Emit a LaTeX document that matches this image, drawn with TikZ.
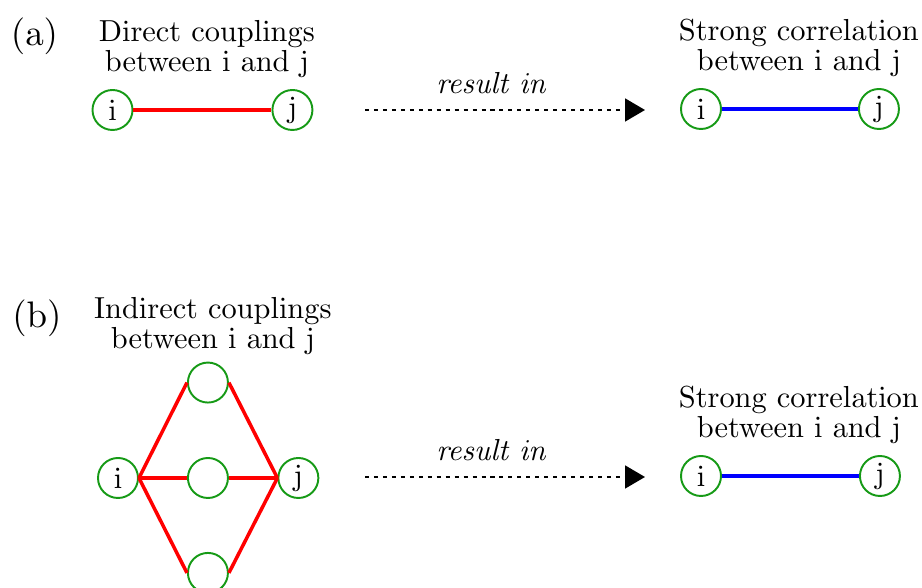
\documentclass[tikz,border=0pt]{standalone}
\usepackage{tikz}
\usetikzlibrary{arrows.meta,positioning}
\definecolor{SiteGreen}{HTML}{169A16}
\font\diagrm=cmr10 at 17.3pt
\font\diagit=cmti10 at 17.3pt
\font\panelrm=cmr10 at 21pt
\newcommand\diagfont{\diagrm\baselineskip 17pt\relax}

\begin{document}
\begin{tikzpicture}[
  every node/.style={font=\diagfont},
  site/.style={
    draw=SiteGreen,circle,line width=1.1pt,
    minimum size=0.8cm,inner sep=0pt
  },
  caption/.style={align=center},
  panel/.style={font=\panelrm},
  coupling/.style={draw=red,line width=2pt},
  correl/.style={draw=blue,line width=2pt},
  leadsto/.style={
    draw,line width=1pt,dash pattern=on 2.3pt off 2.8pt,
    -{Triangle[length=0.4cm,width=0.46cm]}
  }
]
  \useasboundingbox (0,0) rectangle (18.44,11.76);

  % (a) direct couplings
  \node[panel] (labA) at (0.69,11.04) {(a)};
  \node[caption] (capDir) at (4.14,10.78) {Direct couplings\\between i and j};
  \node[site] (dirI) at (2.25,9.56) {i};
  \node[site,right=2.76cm of dirI] (dirJ) {j};
  \draw[coupling] (dirI) -- (dirJ);

  \coordinate (arrAs) at (7.3,9.56);
  \coordinate (arrAe) at (12.9,9.56);
  \draw[leadsto] (arrAs) -- node[pos=0.45,above=0.2cm,font=\diagit] {result in} (arrAe);

  \node[caption] (capCorA) at (15.98,10.80) {Strong correlation\\between i and j};
  \node[site] (corAI) at (14.02,9.58) {i};
  \node[site,right=2.72cm of corAI] (corAJ) {j};
  \draw[correl] (corAI) -- (corAJ);

  % (b) indirect couplings
  \node[panel] (labB) at (0.74,5.40) {(b)};
  \node[caption] (capInd) at (4.26,5.25) {Indirect couplings\\between i and j};
  \node[site] (indI) at (2.36,2.20) {i};
  \node[site,right=0.96cm of indI] (indMid) {};
  \node[site,right=0.97cm of indMid] (indJ) {j};
  \node[site,above=1.07cm of indMid] (indUp) {};
  \node[site,below=1.06cm of indMid] (indLow) {};
  \draw[coupling] (indI.east) -- (indUp.west);
  \draw[coupling] (indI.east) -- (indMid.west);
  \draw[coupling] (indI.east) -- (indLow.west);
  \draw[coupling] (indUp.east) -- (indJ.west);
  \draw[coupling] (indMid.east) -- (indJ.west);
  \draw[coupling] (indLow.east) -- (indJ.west);

  \coordinate (arrBs) at (7.3,2.22);
  \coordinate (arrBe) at (12.9,2.22);
  \draw[leadsto] (arrBs) -- node[pos=0.45,above=0.2cm,font=\diagit] {result in} (arrBe);

  \node[caption] (capCorB) at (15.98,3.47) {Strong correlation\\between i and j};
  \node[site] (corBI) at (14.02,2.24) {i};
  \node[site,right=2.74cm of corBI] (corBJ) {j};
  \draw[correl] (corBI) -- (corBJ);
\end{tikzpicture}
\end{document}
